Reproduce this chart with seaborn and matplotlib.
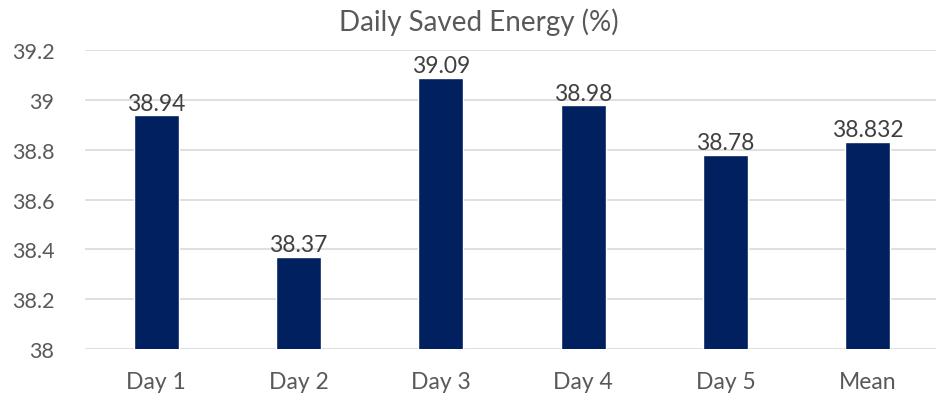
import matplotlib
import matplotlib.pyplot as plt
import pandas as pd
import seaborn as sns

matplotlib.use("Agg")

# --- Datos ---
categorias = ["Day 1", "Day 2", "Day 3", "Day 4", "Day 5", "Mean"]
ahorro = [38.94, 38.37, 39.09, 38.98, 38.78, 38.832]
etiquetas = ["38.94", "38.37", "39.09", "38.98", "38.78", "38.832"]
ticks_y = [38, 38.2, 38.4, 38.6, 38.8, 39, 39.2]
ticks_y_txt = ["38", "38.2", "38.4", "38.6", "38.8", "39", "39.2"]

sns.set_theme(style="white")
plt.rcParams["font.family"] = ["Lato", "DejaVu Sans"]

TEXT_COLOR = "#595959"
BAR_COLOR = "#002060"

df = pd.DataFrame({"dia": categorias, "ahorro": ahorro})

fig = plt.figure(figsize=(9.37, 4.06), dpi=100)
# El área de trazado se sale un poco por la derecha, como en la imagen original
ax = fig.add_axes([0.0907, 0.138, 0.9114, 0.736])

sns.barplot(data=df, x="dia", y="ahorro", color=BAR_COLOR, width=0.316,
            saturation=1, ax=ax, zorder=2)

ax.set_xlim(-0.5, len(categorias) - 0.5)
ax.set_ylim(38, 39.2)
ax.set_yticks(ticks_y)
ax.set_yticklabels(ticks_y_txt)
ax.grid(axis="y", color="#D9D9D9", linewidth=1.2, zorder=0)
ax.set_axisbelow(True)
for s in ax.spines.values():
    s.set_visible(False)
ax.tick_params(axis="y", length=0, labelsize=15.5, colors=TEXT_COLOR, pad=22)
ax.tick_params(axis="x", length=0, labelsize=16.5, colors=TEXT_COLOR, pad=16)
ax.set_xlabel("")
ax.set_ylabel("")

# Etiquetas encima de cada barra
for container in ax.containers:
    ax.bar_label(container, labels=etiquetas, padding=1, fontsize=16.5, color="#404040")

fig.text(0.511, 0.945, "Daily Saved Energy (%)", fontsize=20, color=TEXT_COLOR,
         ha="center", va="center")

fig.savefig("out.png", dpi=100)
plt.close(fig)
